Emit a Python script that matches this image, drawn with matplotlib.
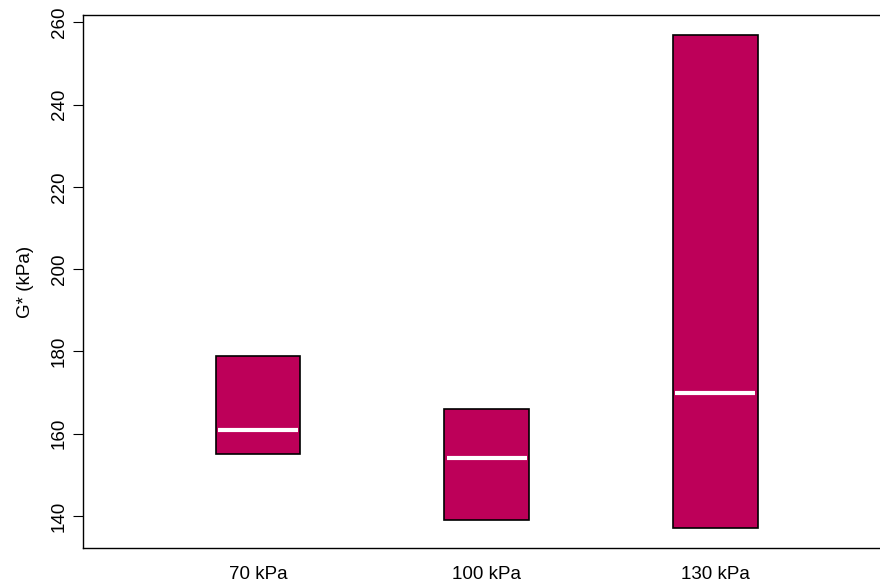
import numpy as np
import matplotlib.pyplot as plt

plt.rcParams['font.family'] = ['Liberation Sans', 'DejaVu Sans']

labels = ["70 kPa", "100 kPa", "130 kPa"]
g_min = [155, 139, 137]
g_max = [179, 166, 257]
g_med = [161, 154, 170]

pos = np.arange(1, len(labels) + 1)
w = 0.37

fig = plt.figure(figsize=(8.8, 5.84), dpi=100)
ax = fig.add_axes((0.0943, 0.0616, 0.9057, 0.9127))

lo = np.array(g_min)
hi = np.array(g_max)
ax.bar(pos, hi - lo, bottom=lo, width=w, color='#BD0059', edgecolor='black', linewidth=1.2)
ax.hlines(g_med, pos - w / 2 + 0.01, pos + w / 2 - 0.01, colors='white', linewidth=3)

ax.set_xlim(0.234, 3.72)
ax.set_ylim(132.2, 261.8)
ax.set_xticks(pos)
ax.set_xticklabels(labels, fontsize=13.5)
ax.tick_params(axis='x', length=0, pad=13)
ax.set_yticks([140, 160, 180, 200, 220, 240, 260])
ax.tick_params(axis='y', length=7, labelsize=13.5, pad=4)
for t in ax.get_yticklabels():
    t.set_rotation(90)
    t.set_va('center')
ax.set_ylabel("G* (kPa)", fontsize=13.5, labelpad=12)
ax.spines['right'].set_visible(False)
for s in ['left', 'bottom', 'top']:
    ax.spines[s].set_linewidth(1)

fig.savefig('out.png', dpi=100)
